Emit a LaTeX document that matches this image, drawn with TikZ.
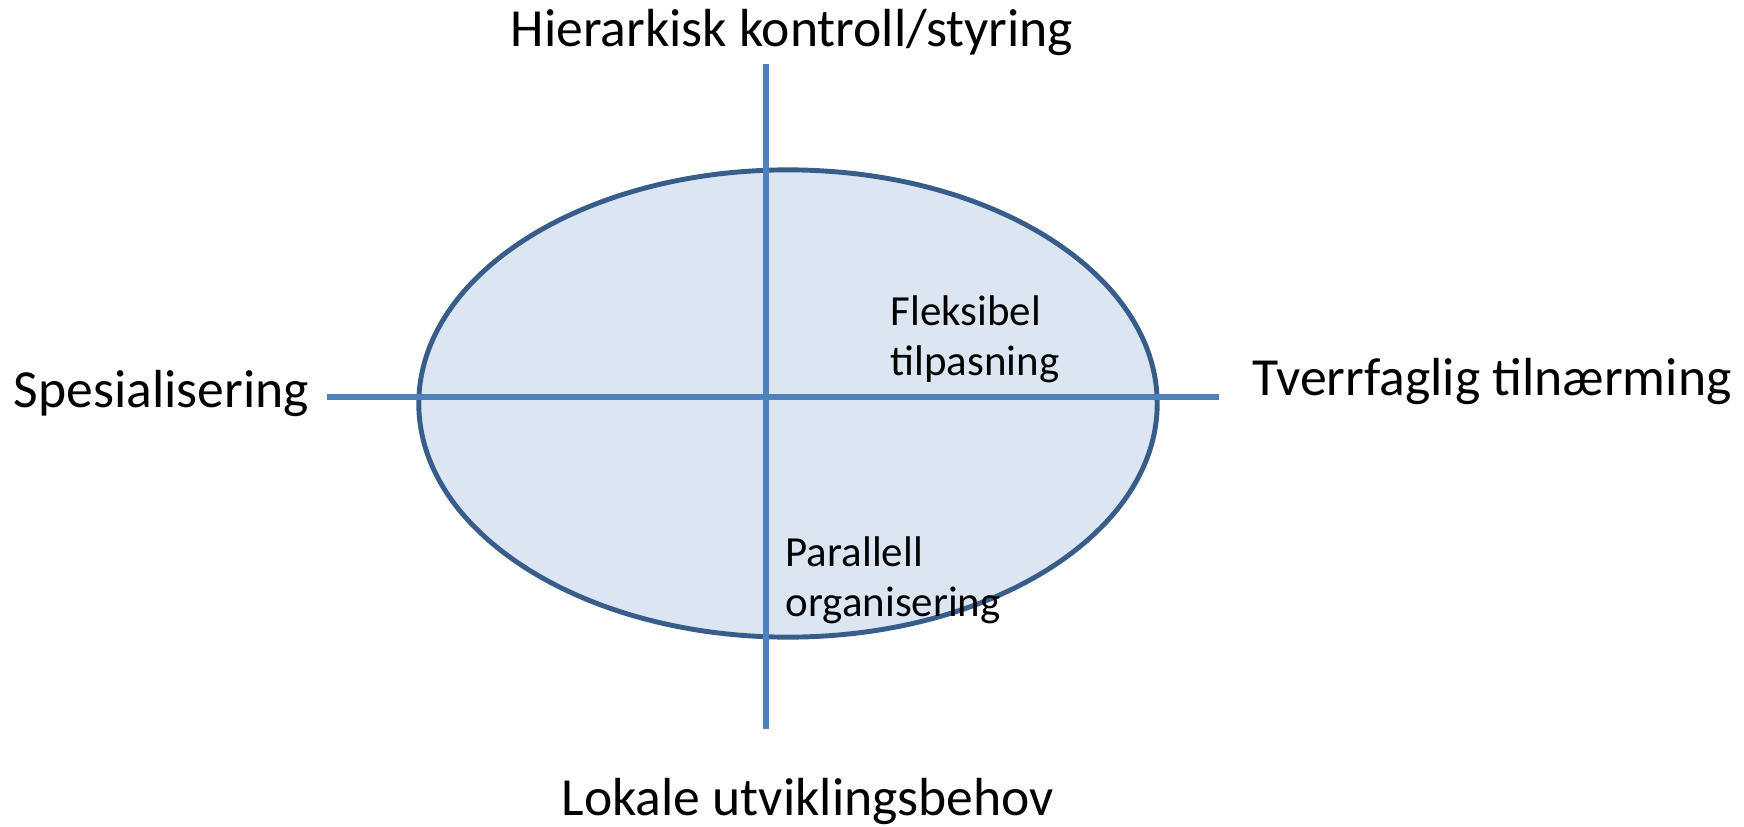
\documentclass[tikz,border=0pt]{standalone}
\usepackage{fontspec}
\setmainfont{Carlito}
\usepackage{tikz}
\usepackage[rgb]{xcolor}

\definecolor{axisblue}{RGB}{79,129,189}
\definecolor{ovalline}{RGB}{56,93,138}
\definecolor{ovalfill}{RGB}{220,230,242}

\tikzset{
	axisline/.style={axisblue,line width=1.7pt},
	bigtext/.style={font=\fontsize{15.25}{18}\selectfont,anchor=base west,inner sep=0pt},
	smalltext/.style={font=\fontsize{12.2}{14.2}\selectfont,anchor=base west,inner sep=0pt,align=left}
}

\begin{document}
\begin{tikzpicture}[x=0.01cm,y=-0.01cm]
	\useasboundingbox (0,0) rectangle (1744,827);
	\draw[ovalline,fill=ovalfill,line width=1.4pt] (788,403.5) ellipse [x radius=3.69cm, y radius=2.335cm];
	\coordinate (west) at (327,396.7);
	\coordinate (east) at (1219,396.7);
	\coordinate (north) at (765.7,64);
	\coordinate (south) at (765.7,729);
	\draw[axisline] (west) -- (east);
	\draw[axisline] (north) -- (south);
	\node[bigtext] (top) at (510,46.7) {Hierarkisk kontroll/styring};
	\node[bigtext] (bottom) at (561,815) {Lokale utviklingsbehov};
	\node[bigtext] (left) at (13,407) {Spesialisering};
	\node[bigtext] (right) at (1252,395) {Tverrfaglig tilnærming};
	\node[smalltext] (flex) at (890,375) {Fleksibel\\tilpasning};
	\node[smalltext] (para) at (785,616.7) {Parallell\\organisering};
\end{tikzpicture}
\end{document}
